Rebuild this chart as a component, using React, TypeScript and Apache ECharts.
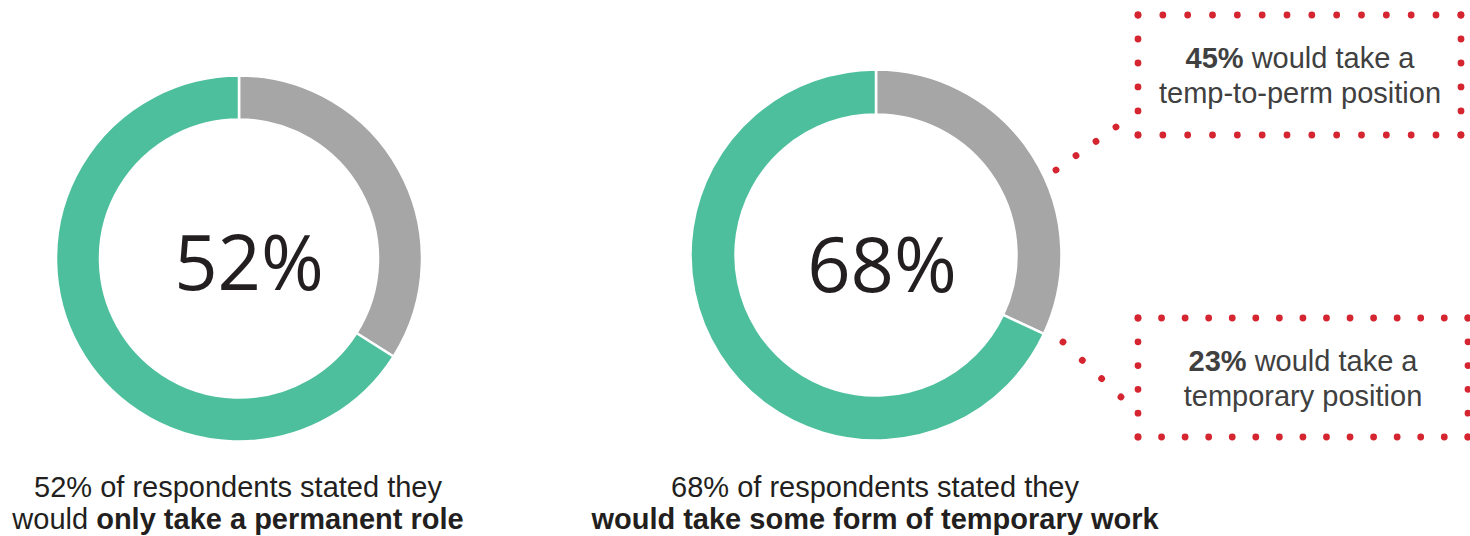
import React, { useEffect, useRef } from "react";
import * as echarts from "echarts";

// ---- data ----
const segmentNames = ["Other", "Highlighted"];
const leftValues = [34, 66];
const rightValues = [32, 68];
const centerLabels = ["52%", "68%"];
const captionLine1 = ["52% of respondents stated they", "68% of respondents stated they"];
const captionLine2Regular = ["would ", ""];
const captionLine2Bold = ["only take a permanent role", "would take some form of temporary work"];
const calloutBold = ["45%", "23%"];
const calloutLine1Rest = [" would take a", " would take a"];
const calloutLine2 = ["temp-to-perm position", "temporary position"];

const GREEN = "#4dbf9c";
const GRAY = "#a6a6a6";
const RED = "#d42530";
const DARK = "#231f20";
const BOXTEXT = "#404040";
const SANS = "'Liberation Sans', Arial, sans-serif";

function dotted(x1: number, y1: number, x2: number, y2: number, n: number) {
  const len = Math.hypot(x2 - x1, y2 - y1);
  const period = (len / n) * 0.9995;
  return {
    type: "line",
    silent: true,
    shape: { x1, y1, x2, y2 },
    style: { stroke: RED, lineWidth: 6.8, lineCap: "round", lineDash: [0.001, period - 0.001] },
  };
}

function dottedBox(l: number, t: number, r: number, b: number, nx: number, ny: number) {
  return [
    dotted(l, t, r, t, nx),
    dotted(l, b, r, b, nx),
    dotted(l, t, l, b, ny),
    dotted(r, t, r, b, ny),
  ];
}

function pieSeries(values: number[], center: number[], radius: number[]) {
  return {
    type: "pie",
    center,
    radius,
    startAngle: 90,
    clockwise: true,
    silent: true,
    label: { show: false },
    labelLine: { show: false },
    itemStyle: { borderColor: "#ffffff", borderWidth: 2.5 },
    data: values.map((v, i) => ({
      name: segmentNames[i],
      value: v,
      itemStyle: { color: i === 0 ? GRAY : GREEN },
    })),
  };
}

export default function App() {
  const ref = useRef<HTMLDivElement>(null);
  useEffect(() => {
    if (!ref.current) return;
    const chart = echarts.init(ref.current, null, { renderer: "svg" });

    const centers = [
      [239, 258.5],
      [876, 255],
    ];
    const textCenters = [
      [249, 260],
      [882, 262],
    ];

    const graphics: any[] = [];
    centerLabels.forEach((t, i) => {
      graphics.push({
        type: "text",
        silent: true,
        x: textCenters[i][0],
        y: textCenters[i][1],
        style: {
          text: t,
          fill: DARK,
          font: "400 76px 'Open Sans', sans-serif",
          textAlign: "center",
          textVerticalAlign: "middle",
        },
      });
    });

    // captions
    [0, 1].forEach((i) => {
      const cx = [238, 875][i];
      graphics.push({
        type: "text",
        silent: true,
        x: cx,
        y: 487,
        style: {
          text: captionLine1[i],
          fill: DARK,
          font: `400 29px ${SANS}`,
          textAlign: "center",
          textVerticalAlign: "middle",
        },
      });
      graphics.push({
        type: "text",
        silent: true,
        x: cx,
        y: 519,
        style: {
          text: (captionLine2Regular[i] ? `{r|${captionLine2Regular[i]}}` : "") + `{b|${captionLine2Bold[i]}}`,
          textAlign: "center",
          textVerticalAlign: "middle",
          rich: {
            r: { fill: DARK, fontFamily: SANS, fontSize: 29, fontWeight: 400 },
            b: { fill: DARK, fontFamily: SANS, fontSize: 29, fontWeight: 700 },
          },
        },
      });
    });

    // callouts
    const calloutPos = [
      [1300, 58, 93],
      [1303, 361, 396],
    ];
    [0, 1].forEach((i) => {
      const [cx, y1, y2] = calloutPos[i];
      graphics.push({
        type: "text",
        silent: true,
        x: cx,
        y: y1,
        style: {
          text: `{b|${calloutBold[i]}}{r|${calloutLine1Rest[i]}}`,
          textAlign: "center",
          textVerticalAlign: "middle",
          rich: {
            r: { fill: BOXTEXT, fontFamily: SANS, fontSize: 29, fontWeight: 400 },
            b: { fill: BOXTEXT, fontFamily: SANS, fontSize: 29, fontWeight: 700 },
          },
        },
      });
      graphics.push({
        type: "text",
        silent: true,
        x: cx,
        y: y2,
        style: {
          text: calloutLine2[i],
          fill: BOXTEXT,
          font: `400 29px ${SANS}`,
          textAlign: "center",
          textVerticalAlign: "middle",
        },
      });
    });

    graphics.push(...dottedBox(1138, 15, 1461, 135, 13, 5));
    graphics.push(...dottedBox(1138, 318, 1468, 437, 14, 5));
    graphics.push(dotted(1056, 170, 1116, 127, 3));
    graphics.push(dotted(1063, 342, 1121, 397, 3));

    chart.setOption({
      animation: false,
      backgroundColor: "#ffffff",
      series: [
        pieSeries(leftValues, centers[0], [139, 183]),
        pieSeries(rightValues, centers[1], [140.5, 185.5]),
      ],
      graphic: graphics,
    });
    return () => chart.dispose();
  }, []);
  return (
    <div
      ref={ref}
      style={{ position: "absolute", left: 0, top: 0, width: 1470, height: 536 }}
    />
  );
}
